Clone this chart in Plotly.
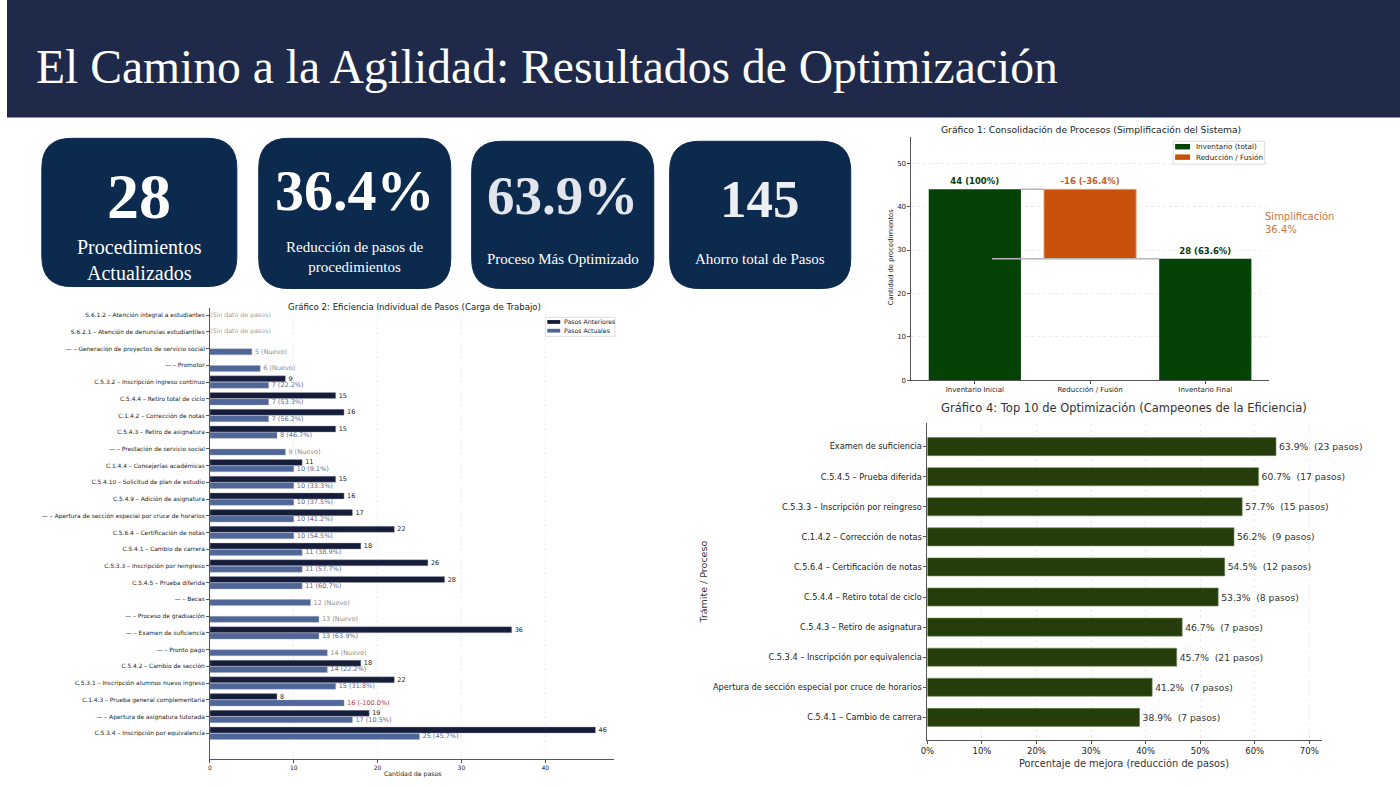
import plotly.graph_objects as go

W, H = 1400, 788

# ---- Gráfico 2: pasos por procedimiento (de arriba hacia abajo) ----
g2_labels = [
    "S.6.1.2 – Atención integral a estudiantes",
    "S.6.2.1 – Atención de denuncias estudiantiles",
    "— – Generación de proyectos de servicio social",
    "— – Promotor",
    "C.5.3.2 – Inscripción ingreso continuo",
    "C.5.4.4 – Retiro total de ciclo",
    "C.1.4.2 – Corrección de notas",
    "C.5.4.3 – Retiro de asignatura",
    "— – Prestación de servicio social",
    "C.1.4.4 – Consejerías académicas",
    "C.5.4.10 – Solicitud de plan de estudio",
    "C.5.4.9 – Adición de asignatura",
    "— – Apertura de sección especial por cruce de horarios",
    "C.5.6.4 – Certificación de notas",
    "C.5.4.1 – Cambio de carrera",
    "C.5.3.3 – Inscripción por reingreso",
    "C.5.4.5 – Prueba diferida",
    "— – Becas",
    "— – Proceso de graduación",
    "— – Examen de suficiencia",
    "— – Pronto pago",
    "C.5.4.2 – Cambio de sección",
    "C.5.3.1 – Inscripción alumnos nuevo ingreso",
    "C.1.4.3 – Prueba general complementaria",
    "— – Apertura de asignatura tutorada",
    "C.5.3.4 – Inscripción por equivalencia",
]
g2_prev = [None, None, None, None, 9, 15, 16, 15, None, 11, 15, 16, 17, 22, 18, 26, 28,
           None, None, 36, None, 18, 22, 8, 19, 46]
g2_curr = [None, None, 5, 6, 7, 7, 7, 8, 9, 10, 10, 10, 10, 10, 11, 11, 11,
           12, 13, 13, 14, 14, 15, 16, 17, 25]
g2_series = ["Pasos Anteriores", "Pasos Actuales"]

# ---- Gráfico 1: consolidación ----
g1_stages = ["Inventario Inicial", "Reducción / Fusión", "Inventario Final"]
g1_initial = 44
g1_final = 28
g1_series = ["Inventario (total)", "Reducción / Fusión"]

# ---- Gráfico 4: top 10 ----
g4_labels = [
    "Examen de suficiencia",
    "C.5.4.5 – Prueba diferida",
    "C.5.3.3 – Inscripción por reingreso",
    "C.1.4.2 – Corrección de notas",
    "C.5.6.4 – Certificación de notas",
    "C.5.4.4 – Retiro total de ciclo",
    "C.5.4.3 – Retiro de asignatura",
    "C.5.3.4 – Inscripción por equivalencia",
    "Apertura de sección especial por cruce de horarios",
    "C.5.4.1 – Cambio de carrera",
]
g4_pct = [63.9, 60.7, 57.7, 56.2, 54.5, 53.3, 46.7, 45.7, 41.2, 38.9]
g4_saved = [23, 17, 15, 9, 12, 8, 7, 21, 7, 7]

# ---- KPIs ----
pairs = [(p, c) for p, c in zip(g2_prev, g2_curr) if p is not None and c is not None]
reduction = g1_initial - g1_final
kpi_values = [
    f"{g1_final}",
    f"{reduction / g1_initial * 100:.1f}%",
    f"{max((p - c) / p * 100 for p, c in pairs):.1f}%",
    f"{sum(p - c for p, c in pairs)}",
]
kpi_labels = ["Procedimientos<br>Actualizados", "Reducción de pasos de<br>procedimientos",
              "Proceso Más Optimizado", "Ahorro total de Pasos"]


def px(x):
    return x / W


def py(y):
    return 1 - y / H


def rounded_rect(x0, y0, x1, y1, r):
    def P(x, y):
        return f"{px(x):.5f},{py(y):.5f}"
    return (f"M {P(x0 + r, y0)} L {P(x1 - r, y0)} Q {P(x1, y0)} {P(x1, y0 + r)} "
            f"L {P(x1, y1 - r)} Q {P(x1, y1)} {P(x1 - r, y1)} L {P(x0 + r, y1)} "
            f"Q {P(x0, y1)} {P(x0, y1 - r)} L {P(x0, y0 + r)} Q {P(x0, y0)} {P(x0 + r, y0)} Z")


SANS = "DejaVu Sans"
SERIF = "Liberation Serif"
DARK = "#151d3b"
LIGHT = "#4f6798"
GREEN = "#054205"
ORANGE = "#c9510c"
G4 = "#243d0b"

fig = go.Figure()

# ---------- Gráfico 2 ----------
n = len(g2_labels)
ypos = [n - 1 - i for i in range(n)]

prev_text = ["" if p is None else str(p) for p in g2_prev]
curr_text, curr_col = [], []
for p, c in zip(g2_prev, g2_curr):
    if c is None:
        curr_text.append("")
        curr_col.append("#888")
    elif p is None:
        curr_text.append(f"{c} (Nuevo)")
        curr_col.append("#8c8c8c")
    else:
        pct = (p - c) / p * 100
        curr_text.append(f"{c} ({pct:.1f}%)")
        curr_col.append("#b03a3a" if pct < 0 else "#5c6b8c")

fig.add_trace(go.Bar(
    x=g2_prev, y=ypos, orientation="h", name=g2_series[0],
    marker=dict(color=DARK, line=dict(color="#aab", width=0.4)),
    width=0.36, offset=0.01,
    text=prev_text, textposition="outside", constraintext="none", cliponaxis=False,
    textfont=dict(size=6.5, color="#222", family=SANS),
    showlegend=False, xaxis="x", yaxis="y"))
fig.add_trace(go.Bar(
    x=g2_curr, y=ypos, orientation="h", name=g2_series[1],
    marker=dict(color=LIGHT, line=dict(color="#aab", width=0.4)),
    width=0.36, offset=-0.37,
    text=curr_text, textposition="outside", constraintext="none", cliponaxis=False,
    textfont=dict(size=6.5, color=curr_col, family=SANS),
    showlegend=False, xaxis="x", yaxis="y"))

nodata_y = [y for y, p, c in zip(ypos, g2_prev, g2_curr) if p is None and c is None]
fig.add_trace(go.Scatter(
    x=[0] * len(nodata_y), y=nodata_y, mode="text", text=["(Sin dato de pasos)"] * len(nodata_y),
    textposition="middle right", textfont=dict(size=6.3, color="#a0a0a0", family=SANS),
    showlegend=False, hoverinfo="skip", cliponaxis=False, xaxis="x", yaxis="y"))

# ---------- Gráfico 1 ----------
fig.add_trace(go.Bar(
    x=[0, 2], y=[g1_initial, g1_final], name=g1_series[0],
    marker=dict(color=GREEN, line=dict(width=0)), width=0.8,
    text=[f"<b>{g1_initial} (100%)</b>", f"<b>{g1_final} ({g1_final / g1_initial * 100:.1f}%)</b>"],
    textposition="outside", constraintext="none", cliponaxis=False,
    textfont=dict(size=8.5, color="#0b3a0b", family=SANS),
    showlegend=False, xaxis="x2", yaxis="y2"))
fig.add_trace(go.Bar(
    x=[1], y=[reduction], base=[g1_final], name=g1_series[1],
    marker=dict(color=ORANGE, line=dict(color="#e9a37a", width=0.8)), width=0.8,
    text=[f"<b>-{reduction} (-{reduction / g1_initial * 100:.1f}%)</b>"],
    textposition="outside", constraintext="none", cliponaxis=False,
    textfont=dict(size=8.5, color="#c0602a", family=SANS),
    showlegend=False, xaxis="x2", yaxis="y2"))
fig.add_trace(go.Scatter(
    x=[0.4, 0.6], y=[g1_initial, g1_initial], mode="lines",
    line=dict(color="#b5b5b5", width=1.5), showlegend=False, hoverinfo="skip",
    xaxis="x2", yaxis="y2"))
fig.add_trace(go.Scatter(
    x=[0.15, 1.6], y=[g1_final, g1_final], mode="lines",
    line=dict(color="#b5b5b5", width=1.5), showlegend=False, hoverinfo="skip",
    xaxis="x2", yaxis="y2"))

# ---------- Gráfico 4 ----------
m = len(g4_labels)
y4 = [m - 1 - i for i in range(m)]
fig.add_trace(go.Bar(
    x=g4_pct, y=y4, orientation="h", width=0.6,
    marker=dict(color=G4, line=dict(color="#6f8a55", width=0.6)),
    text=[f"{v:.1f}%  ({s} pasos)" for v, s in zip(g4_pct, g4_saved)],
    textposition="outside", constraintext="none", cliponaxis=False,
    textfont=dict(size=9.2, color="#333", family=SANS),
    showlegend=False, xaxis="x3", yaxis="y3"))

axis_common = dict(showline=True, linecolor="#555", linewidth=1, ticks="outside",
                   ticklen=3, tickcolor="#555", zeroline=False)

fig.update_layout(
    width=W, height=H, margin=dict(l=0, r=0, t=0, b=0),
    paper_bgcolor="white", plot_bgcolor="white", barmode="overlay",
    font=dict(family=SANS, color="#222"), showlegend=False,
    xaxis=dict(domain=[px(204), px(610)], anchor="y", range=[0, 48.2],
               tickvals=[0, 10, 20, 30, 40], tickfont=dict(size=6, color="#222"),
               showgrid=True, gridcolor="#eeeeee", griddash="dot", **axis_common),
    yaxis=dict(domain=[py(763), py(310)], anchor="x", range=[-1.55, 25.4],
               tickvals=ypos, ticktext=g2_labels, tickfont=dict(size=5.9, color="#222"),
               showgrid=False, **axis_common),
    xaxis2=dict(domain=[px(909), px(1268)], anchor="y2", range=[-0.55, 2.55],
                tickvals=[0, 1, 2], ticktext=g1_stages, tickfont=dict(size=7, color="#222"),
                showgrid=False, **axis_common),
    yaxis2=dict(domain=[py(382), py(138)], anchor="x2", range=[0, 56], dtick=10,
                tickfont=dict(size=7, color="#222"), showgrid=True, gridcolor="#ececec",
                griddash="dot", **axis_common),
    xaxis3=dict(domain=[px(925), px(1322)], anchor="y3", range=[0, 72.4], dtick=10,
                ticksuffix="%", tickfont=dict(size=8.5, color="#222"), showgrid=True,
                gridcolor="#ececec", griddash="dot", **axis_common),
    yaxis3=dict(domain=[py(744), py(425)], anchor="x3", range=[-0.76, 9.79],
                tickvals=y4, ticktext=g4_labels, tickfont=dict(size=8.2, color="#222"),
                showgrid=False, **axis_common),
)

shapes = [dict(type="rect", xref="paper", yref="paper", x0=0, x1=1, y0=py(118), y1=1,
               fillcolor="#1f2a4b", line=dict(width=0), layer="below")]
cards = [(35, 139, 231, 288), (253, 139, 446, 290), (467, 142, 650, 290), (666, 142, 848, 290)]
for (x0, y0, x1, y1) in cards:
    shapes.append(dict(type="path", xref="paper", yref="paper",
                       path=rounded_rect(x0, y0, x1, y1, 30),
                       fillcolor="#0c2a4e", line=dict(color="#0c2a4e", width=1), layer="below"))

ann = [dict(text="El Camino a la Agilidad: Resultados de Optimización", x=px(27), y=py(67),
            xref="paper", yref="paper", xanchor="left", yanchor="middle", showarrow=False,
            font=dict(family=SERIF, size=47.6, color="white"))]


# hand-drawn legends (compact, matplotlib style)
def legend_box(x0, y0, x1, y1, items, sw, text_x, size):
    shapes.append(dict(type="rect", xref="paper", yref="paper", x0=px(x0), x1=px(x1),
                       y0=py(y1), y1=py(y0), fillcolor="white",
                       line=dict(color="#dddddd", width=1), layer="above"))
    for (label, color, ya, yb) in items:
        shapes.append(dict(type="rect", xref="paper", yref="paper", x0=px(sw[0]), x1=px(sw[1]),
                           y0=py(yb), y1=py(ya), fillcolor=color, line=dict(width=0),
                           layer="above"))
        ann.append(dict(text=label, x=px(text_x), y=py((ya + yb) / 2), xref="paper",
                        yref="paper", xanchor="left", yanchor="middle", showarrow=False,
                        font=dict(size=size, color="#222")))


legend_box(541, 319, 611, 338,
           [(g2_series[0], DARK, 321.7, 325.5), (g2_series[1], LIGHT, 330.5, 334.3)],
           (543, 556), 558, 6.2)
legend_box(1172, 142, 1264, 165,
           [(g1_series[0], GREEN, 144.7, 150.2), (g1_series[1], ORANGE, 155.2, 160.7)],
           (1174, 1189), 1193, 7.2)

value_sizes = [64, 58, 55, 53]
value_y = [197, 191, 196, 200]
value_col = ["white", "white", "#e2e6ec", "#eceef2"]
label_sizes = [20, 15, 15, 15]
label_y = [261, 258, 260, 260]
for i, (x0, y0, x1, y1) in enumerate(cards):
    cx = (x0 + x1) / 2
    ann.append(dict(text=f"<b>{kpi_values[i]}</b>", x=px(cx), y=py(value_y[i]),
                    xref="paper", yref="paper", xanchor="center", yanchor="middle",
                    showarrow=False, font=dict(family=SERIF, size=value_sizes[i], color=value_col[i])))
    ann.append(dict(text=kpi_labels[i], x=px(cx), y=py(label_y[i]),
                    xref="paper", yref="paper", xanchor="center", yanchor="middle",
                    showarrow=False, font=dict(family=SERIF, size=label_sizes[i], color="white")))

ann += [
    dict(text="Gráfico 2: Eficiencia Individual de Pasos (Carga de Trabajo)", x=px(410), y=py(309),
         xref="paper", yref="paper", xanchor="center", yanchor="middle", showarrow=False,
         font=dict(size=8.6, color="#222")),
    dict(text="Cantidad de pasos", x=px(408), y=py(778), xref="paper", yref="paper",
         xanchor="center", yanchor="middle", showarrow=False, font=dict(size=6.2, color="#222")),
    dict(text="Gráfico 1: Consolidación de Procesos (Simplificación del Sistema)", x=px(1089), y=py(130),
         xref="paper", yref="paper", xanchor="center", yanchor="middle", showarrow=False,
         font=dict(size=9.2, color="#222")),
    dict(text="Cantidad de procedimientos", x=px(888), y=py(259), xref="paper", yref="paper",
         xanchor="center", yanchor="middle", textangle=-90, showarrow=False,
         font=dict(size=6.8, color="#222")),
    dict(text=f"Simplificación<br>{reduction / g1_initial * 100:.1f}%", x=px(1262), y=py(224),
         xref="paper", yref="paper", xanchor="left", yanchor="middle", align="left",
         showarrow=False, font=dict(size=10, color="#c4773f")),
    dict(text="Gráfico 4: Top 10 de Optimización (Campeones de la Eficiencia)", x=px(1123), y=py(410),
         xref="paper", yref="paper", xanchor="center", yanchor="middle", showarrow=False,
         font=dict(size=11.5, color="#333")),
    dict(text="Trámite / Proceso", x=px(700), y=py(585), xref="paper", yref="paper",
         xanchor="center", yanchor="middle", textangle=-90, showarrow=False,
         font=dict(size=9.5, color="#333")),
    dict(text="Porcentaje de mejora (reducción de pasos)", x=px(1123), y=py(767),
         xref="paper", yref="paper", xanchor="center", yanchor="middle", showarrow=False,
         font=dict(size=9.8, color="#333")),
]
fig.update_layout(shapes=shapes, annotations=ann)

fig.write_html("out.html", config={"displayModeBar": False},
               post_script="document.body.style.margin='0';")
